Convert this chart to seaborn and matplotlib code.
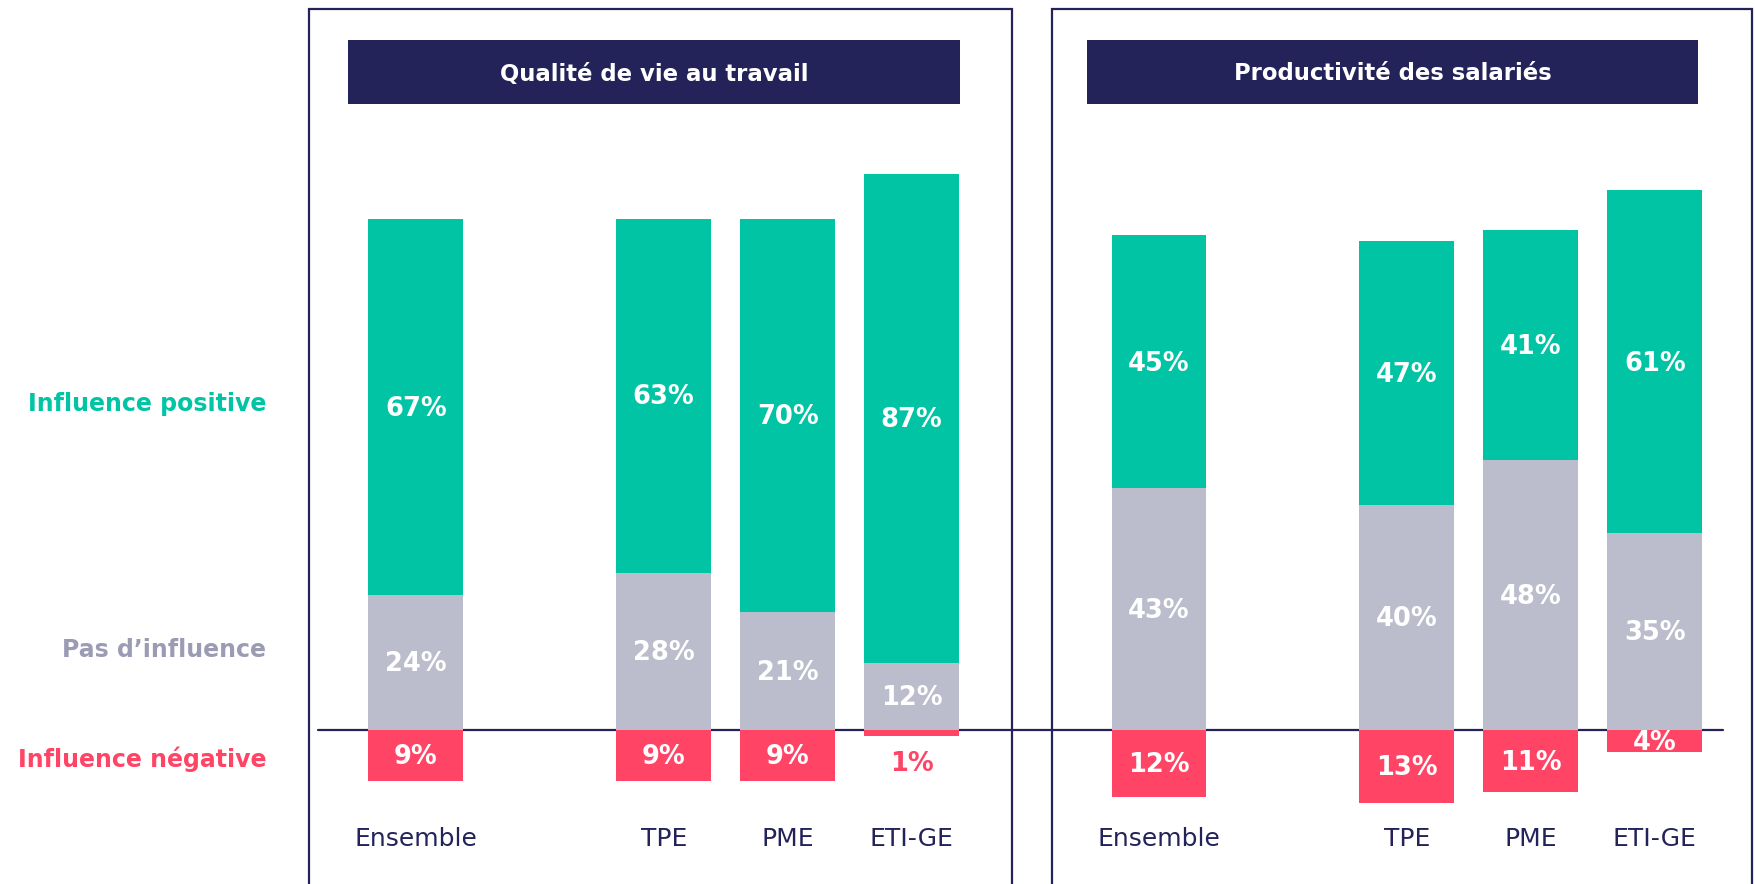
import matplotlib
matplotlib.use("Agg")
import matplotlib.pyplot as plt
from matplotlib.patches import Rectangle
from matplotlib.lines import Line2D
import seaborn as sns

# ── Data ──────────────────────────────────────────────────────────────────────
CATEGORIES = ["Ensemble", "TPE", "PME", "ETI-GE"]
PANEL_TITLES = ["Qualité de vie au travail", "Productivité des salariés"]
ROW_LABELS = ["Influence positive", "Pas d’influence", "Influence négative"]

QVT_POSITIVE = [67, 63, 70, 87]
QVT_NEUTRAL = [24, 28, 21, 12]
QVT_NEGATIVE = [9, 9, 9, 1]

PROD_POSITIVE = [45, 47, 41, 61]
PROD_NEUTRAL = [43, 40, 48, 35]
PROD_NEGATIVE = [12, 13, 11, 4]

# ── Style / layout ────────────────────────────────────────────────────────────
GREEN = "#00C4A3"
GREY = "#BBBDCC"
RED = "#FF4466"
NAVY = "#23235A"
GREY_TEXT = "#9B9CB4"

W, H = 1755, 884
BASE_Y = 730          # pixel row of the zero line
PX_PER_PCT = 5.62
SLOTS = [0, 2, 3, 4]  # empty slot after "Ensemble"
BAR_W = 0.766

sns.set_theme(style="white")
plt.rcParams["font.family"] = ["DejaVu Sans"]


def fx(x):
    return x / W


def fy(y):
    return 1 - y / H


def draw_panel(ax, pos, neu, neg):
    totals = [p + n for p, n in zip(pos, neu)]
    kw = dict(native_scale=True, width=BAR_W, saturation=1, errorbar=None,
              linewidth=0, ax=ax)
    sns.barplot(x=SLOTS, y=totals, color=GREEN, **kw)
    sns.barplot(x=SLOTS, y=neu, color=GREY, **kw)
    sns.barplot(x=SLOTS, y=[-v for v in neg], color=RED, **kw)

    for x, p, n, m, name in zip(SLOTS, pos, neu, neg, CATEGORIES):
        lab = dict(ha="center", va="center", fontsize=18.5, fontweight="bold")
        ax.text(x, n + p / 2 - 0.3, f"{p}%", color="white", **lab)
        ax.text(x, n / 2 - 0.3, f"{n}%", color="white", **lab)
        if m >= 3:
            ax.text(x, -m / 2 - 0.3, f"{m}%", color="white", **lab)
        else:
            ax.text(x, -6, f"{m}%", color=RED, **lab)
        ax.text(x, -19.4, name, ha="center", va="center", fontsize=18,
                color=NAVY)

    ax.set_xlim(-0.8, 4.8)
    ax.set_ylim(-(H - BASE_Y) / PX_PER_PCT, BASE_Y / PX_PER_PCT)
    ax.set_facecolor("none")
    ax.axis("off")


fig = plt.figure(figsize=(W / 100, H / 100), dpi=100)

ax_left = fig.add_axes([fx(316.6), 0, (1010.9 - 316.6) / W, 1])
ax_right = fig.add_axes([fx(1059.8), 0, (1754.1 - 1059.8) / W, 1])
draw_panel(ax_left, QVT_POSITIVE, QVT_NEUTRAL, QVT_NEGATIVE)
draw_panel(ax_right, PROD_POSITIVE, PROD_NEUTRAL, PROD_NEGATIVE)

# zero line under the bars, across both panels
fig.add_artist(Line2D([fx(318), fx(1723)], [fy(BASE_Y), fy(BASE_Y)],
                      color=NAVY, lw=1.6, zorder=-1))

# panel frames and title boxes
for (x0, x1), (t0, t1), title in zip([(309, 1012), (1052, 1752)],
                                     [(348, 960), (1087, 1698)],
                                     PANEL_TITLES):
    fig.add_artist(Rectangle((fx(x0), fy(H + 20)), (x1 - x0) / W, (H + 20 - 9) / H,
                             fill=False, edgecolor=NAVY, lw=1.6,
                             transform=fig.transFigure, zorder=2))
    fig.add_artist(Rectangle((fx(t0), fy(104)), (t1 - t0) / W, 64 / H,
                             facecolor=NAVY, edgecolor="none",
                             transform=fig.transFigure, zorder=3))
    fig.text(fx((t0 + t1) / 2), fy(74), title, ha="center", va="center",
             color="white", fontsize=16.4, fontweight="bold", zorder=4)

# row labels on the left
for label, y, color in zip(ROW_LABELS, [404, 650, 759], [GREEN, GREY_TEXT, RED]):
    fig.text(fx(266), fy(y), label, ha="right", va="center", color=color,
             fontsize=17, fontweight="bold")

fig.savefig("out.png", dpi=100)
